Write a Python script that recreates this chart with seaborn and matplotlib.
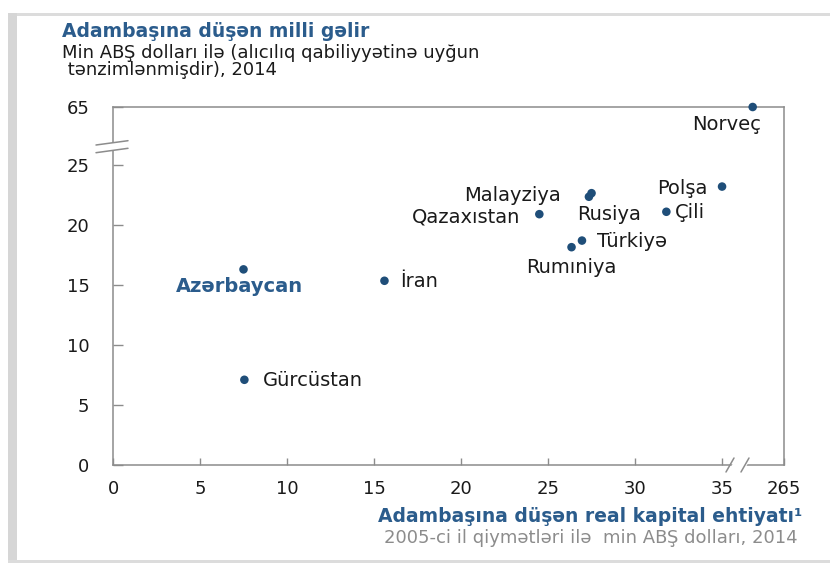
import numpy as np
import pandas as pd
import matplotlib
matplotlib.use("Agg")
import matplotlib.pyplot as plt
import seaborn as sns
from matplotlib.patches import Rectangle, Polygon
from matplotlib.lines import Line2D

# ---------------- data ----------------
countries = ["Norveç", "Polşa", "Çili", "Malayziya", "Rusiya", "Qazaxıstan",
             "Türkiyə", "Rumıniya", "İran", "Azərbaycan", "Gürcüstan"]
capital_stock = [263.2, 35.0, 31.8, 27.5, 27.35, 24.5, 26.95, 26.35, 15.6, 7.5, 7.55]
income = [65.0, 23.2, 21.1, 22.65, 22.35, 20.9, 18.7, 18.15, 15.35, 16.3, 7.1]
# label offsets in pixels (dx, dy) and alignment
label_dx = [-26, -15, 9, -31, 20, -19, 15, 0, 16, -4, 18]
label_dy = [-17, -2, -1, -2, -18, -3, -1, -20, -1, -17, -1]
label_ha = ["center", "right", "left", "right", "center", "right", "left",
            "center", "left", "center", "left"]

x_ticks = [0, 5, 10, 15, 20, 25, 30, 35, 265]
y_ticks = [0, 5, 10, 15, 20, 25, 65]

title = "Adambaşına düşən milli gəlir"
subtitle = "Min ABŞ dolları ilə (alıcılıq qabiliyyətinə uyğun\n tənzimlənmişdir), 2014"
xtitle1 = "Adambaşına düşən real kapital ehtiyatı¹"
xtitle2 = "2005-ci il qiymətləri ilə  min ABŞ dolları, 2014"

df = pd.DataFrame({"country": countries, "x": capital_stock, "y": income})

# ---------------- broken-axis scales ----------------
def make_break(A, B, g):
    def fwd(v):
        v = np.asarray(v, dtype=float)
        return np.where(v <= A, v,
                        np.where(v >= B, v - B + A + g, A + (v - A) * g / (B - A)))
    def inv(d):
        d = np.asarray(d, dtype=float)
        return np.where(d <= A, d,
                        np.where(d >= A + g, d - A - g + B, A + (d - A) * (B - A) / g))
    return fwd, inv

fx, ix = make_break(36.0, 262.49, 0.05)
fy, iy = make_break(27.0, 62.22, 0.05)

# ---------------- style ----------------
sns.set_theme(style="white")
plt.rcParams["font.family"] = ["DejaVu Sans"]

BLUE = "#2b5c8c"
DOT = "#1f4e79"
SPINE = "#8c8c8c"
TXT = "#1a1a1a"

W, H = 830, 563
fig = plt.figure(figsize=(W / 100, H / 100), dpi=100)
ax = fig.add_axes([113 / W, 1 - 465 / H, (784 - 113) / W, (465 - 107) / H])

sns.scatterplot(data=df, x="x", y="y", ax=ax, color=DOT, s=38,
                edgecolor="none", legend=False, clip_on=False, zorder=5)

ax.set_xscale("function", functions=(fx, ix))
ax.set_yscale("function", functions=(fy, iy))
ax.set_xlim(0, 265)
ax.set_ylim(0, 65)
ax.set_xticks(x_ticks)
ax.set_yticks(y_ticks)
ax.set_xticklabels([str(t) for t in x_ticks])
ax.set_yticklabels([str(t) for t in y_ticks])
ax.minorticks_off()
ax.set_xlabel("")
ax.set_ylabel("")

for sp in ax.spines.values():
    sp.set_color(SPINE)
    sp.set_linewidth(1.1)
    sp.set_visible(True)

ax.tick_params(axis="y", direction="in", length=7, width=1, color=SPINE,
               pad=17, labelsize=13, labelcolor=TXT, left=True)
ax.tick_params(axis="x", direction="in", length=5, width=1, color=SPINE,
               pad=11, labelsize=13, labelcolor=TXT, bottom=True)

# point labels
for name, xv, yv, dx, dy, ha in zip(countries, capital_stock, income,
                                    label_dx, label_dy, label_ha):
    is_az = name == "Azərbaycan"
    ax.annotate(name, (xv, yv), xytext=(dx * 0.72, dy * 0.72),
                textcoords="offset points", ha=ha, va="center",
                fontsize=14, color=BLUE if is_az else TXT,
                fontweight="bold" if is_az else "normal", zorder=6,
                annotation_clip=False)

# break marks
T = ax.transAxes
def yfrac(py):
    return (465 - py) / (465 - 107)
def xfrac(px):
    return (px - 113) / (784 - 113)

ax.add_patch(Polygon([[xfrac(96), yfrac(145)], [xfrac(128), yfrac(140.7)],
                      [xfrac(128), yfrac(148.3)], [xfrac(96), yfrac(152.7)]],
                     closed=True, transform=T, facecolor="white",
                     edgecolor="none", clip_on=False, zorder=4))
for (a, b) in [((96, 145), (128, 140.7)), ((96, 152.7), (128, 148.3))]:
    ax.add_line(Line2D([xfrac(a[0]), xfrac(b[0])], [yfrac(a[1]), yfrac(b[1])],
                       transform=T, color=SPINE, lw=1.1, clip_on=False, zorder=4.5))

ax.add_patch(Polygon([[xfrac(728), yfrac(472)], [xfrac(736), yfrac(458)],
                      [xfrac(751), yfrac(458)], [xfrac(743), yfrac(472)]],
                     closed=True, transform=T, facecolor="white",
                     edgecolor="none", clip_on=False, zorder=4))
for (a, b) in [((726, 472), (734, 458)), ((741, 472), (749, 458))]:
    ax.add_line(Line2D([xfrac(a[0]), xfrac(b[0])], [yfrac(a[1]), yfrac(b[1])],
                       transform=T, color=SPINE, lw=1.1, clip_on=False, zorder=4.5))

# titles
def fy_px(py):
    return 1 - py / H

fig.text(62 / W, fy_px(37), title, fontsize=13.5, fontweight="bold",
         color=BLUE, ha="left", va="baseline")
fig.text(62 / W, fy_px(75), subtitle, fontsize=13, color=TXT,
         ha="left", va="baseline", linespacing=0.95)
fig.text(802 / W, fy_px(522), xtitle1, fontsize=13.5, fontweight="bold",
         color=BLUE, ha="right", va="baseline")
fig.text(798 / W, fy_px(543), xtitle2, fontsize=13, color="#8c8c8c",
         ha="right", va="baseline")

# outer frame decoration
fig.patches.append(Rectangle((8 / W, fy_px(16)), 1 - 8 / W, 3 / H,
                             transform=fig.transFigure, facecolor="#dcdcdc",
                             edgecolor="none"))
fig.patches.append(Rectangle((8 / W, 0), 9 / W, fy_px(13),
                             transform=fig.transFigure, facecolor="#d6d6d6",
                             edgecolor="none"))
fig.patches.append(Rectangle((8 / W, 0), 1 - 8 / W, 3 / H,
                             transform=fig.transFigure, facecolor="#dcdcdc",
                             edgecolor="none"))

fig.savefig("out.png", dpi=100)
